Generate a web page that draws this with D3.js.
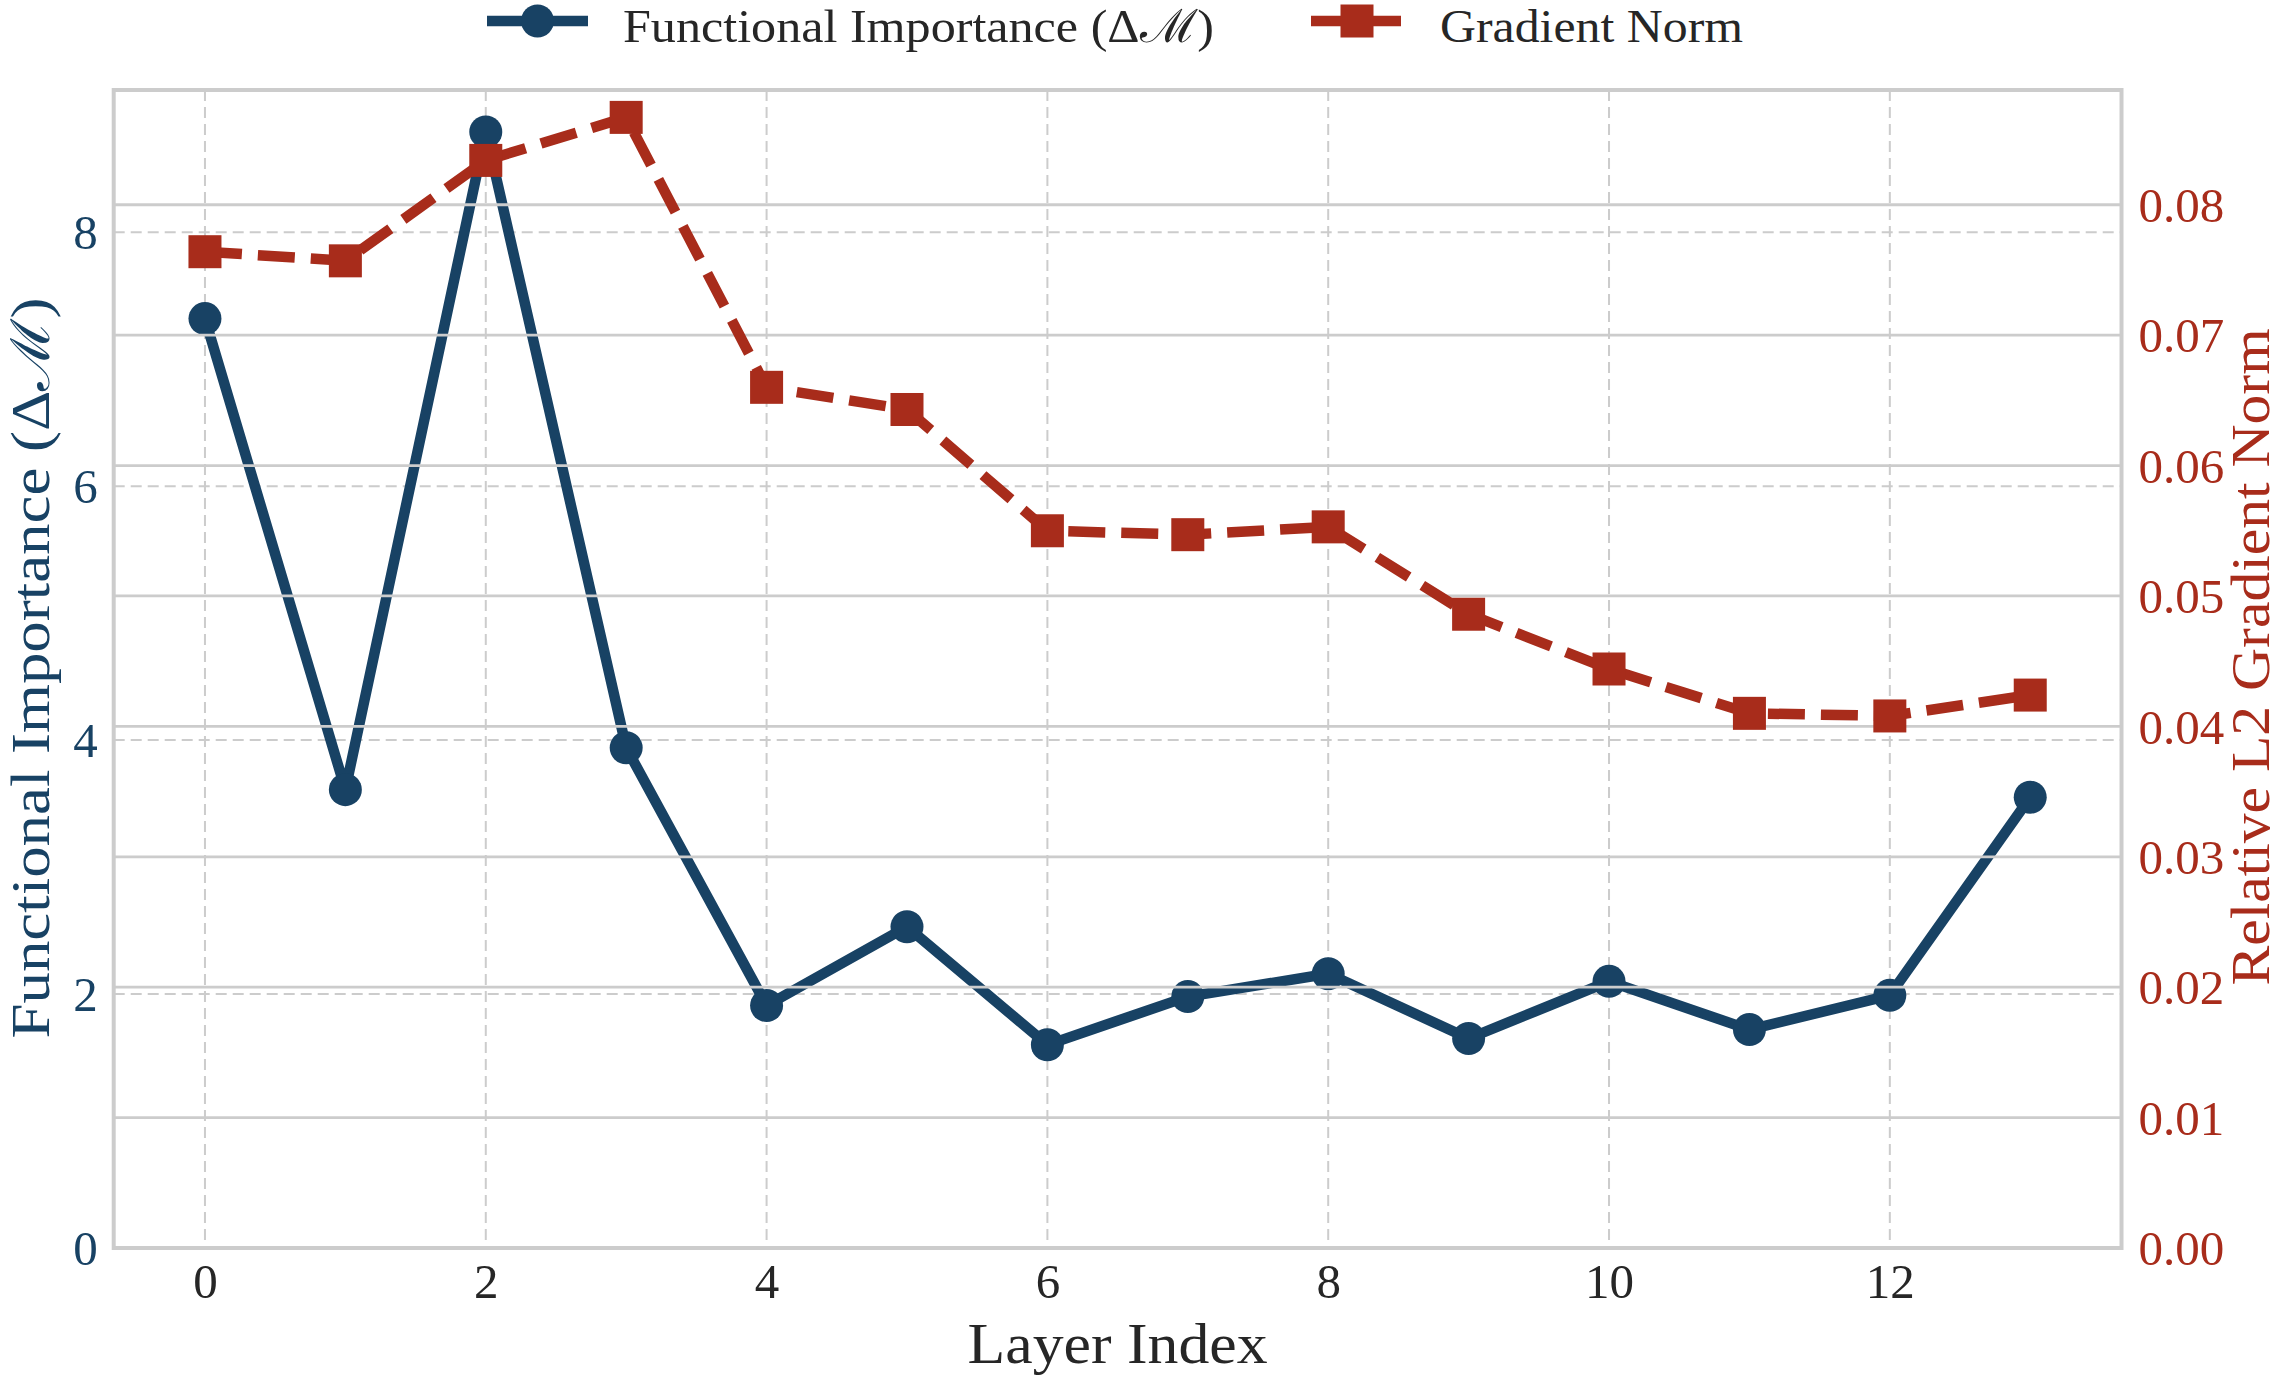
<!DOCTYPE html>
<html>
<head>
<meta charset="utf-8">
<script src="https://cdn.jsdelivr.net/npm/d3@7"></script>
<style>
  html, body { margin: 0; padding: 0; background: #ffffff; }
  svg { display: block; }
  text { font-family: "Liberation Serif", "DejaVu Serif", serif; }
</style>
</head>
<body>
<svg id="chart" width="2283" height="1376"></svg>
<script>
// ---- data ----
const layers = [0, 1, 2, 3, 4, 5, 6, 7, 8, 9, 10, 11, 12, 13];
const functionalImportance = [7.32, 3.61, 8.79, 3.94, 1.91, 2.53, 1.60, 1.98, 2.16, 1.65, 2.10, 1.72, 1.99, 3.55];
const gradientNorm = [0.0764, 0.0757, 0.0834, 0.0867, 0.0660, 0.0643, 0.0550, 0.0547, 0.0553, 0.0486, 0.0444, 0.0410, 0.0408, 0.0424];
const xTicks = [0, 2, 4, 6, 8, 10, 12];
const leftTicks = [0, 2, 4, 6, 8];
const rightTicks = [0, 0.01, 0.02, 0.03, 0.04, 0.05, 0.06, 0.07, 0.08];
const seriesNames = ["Functional Importance (\u0394\u2133)", "Gradient Norm"];
const xLabel = "Layer Index";
const leftLabel = "Functional Importance (\u0394\u2133)";
const rightLabel = "Relative L2 Gradient Norm";

// ---- style ----
const BLUE = "#184264", RED = "#a82c1b", TXT = "#262626", GRID = "#cccccc";
const L = 113.7, R = 2121.5, T = 90, B = 1248;

const svg = d3.select("#chart");
const x = d3.scaleLinear().domain([-0.65, 13.65]).range([L, R]);
const yL = d3.scaleLinear().domain([0, 9.12]).range([B, T]);
const yR = d3.scaleLinear().domain([0, 0.0888]).range([B, T]);

// dashed grid (left axis + x)
const gDash = svg.append("g");
gDash.selectAll("line.h").data(leftTicks).enter().append("line")
  .attr("x1", L).attr("x2", R).attr("y1", d => yL(d)).attr("y2", d => yL(d))
  .attr("stroke", GRID).attr("stroke-width", 2).attr("stroke-dasharray", "11,6");
gDash.selectAll("line.v").data(xTicks).enter().append("line")
  .attr("y1", T).attr("y2", B).attr("x1", d => x(d)).attr("x2", d => x(d))
  .attr("stroke", GRID).attr("stroke-width", 2).attr("stroke-dasharray", "11,6");

// blue series
const pts1 = layers.map((l, i) => [l, functionalImportance[i]]);
svg.append("path").datum(pts1)
  .attr("d", d3.line().x(d => x(d[0])).y(d => yL(d[1])))
  .attr("fill", "none").attr("stroke", BLUE).attr("stroke-width", 10.5)
  .attr("stroke-linejoin", "round").attr("stroke-linecap", "round");
svg.append("g").selectAll("circle").data(pts1).enter().append("circle")
  .attr("cx", d => x(d[0])).attr("cy", d => yL(d[1])).attr("r", 16.5).attr("fill", BLUE);

// solid grid (right axis)
svg.append("g").selectAll("line").data(rightTicks).enter().append("line")
  .attr("x1", L).attr("x2", R).attr("y1", d => yR(d)).attr("y2", d => yR(d))
  .attr("stroke", GRID).attr("stroke-width", 2.8);

// red series
const pts2 = layers.map((l, i) => [l, gradientNorm[i]]);
svg.append("path").datum(pts2)
  .attr("d", d3.line().x(d => x(d[0])).y(d => yR(d[1])))
  .attr("fill", "none").attr("stroke", RED).attr("stroke-width", 10.5)
  .attr("stroke-dasharray", "37,16").attr("stroke-linejoin", "round");
const SQ = 33;
svg.append("g").selectAll("rect").data(pts2).enter().append("rect")
  .attr("x", d => x(d[0]) - SQ / 2).attr("y", d => yR(d[1]) - SQ / 2)
  .attr("width", SQ).attr("height", SQ).attr("fill", RED);

// frame
svg.append("rect").attr("x", L).attr("y", T).attr("width", R - L).attr("height", B - T)
  .attr("fill", "none").attr("stroke", GRID).attr("stroke-width", 4);

// axes via d3
const axX = svg.append("g").attr("transform", `translate(0,${B})`)
  .call(d3.axisBottom(x).tickValues(xTicks).tickFormat(d3.format("d")).tickSize(0).tickPadding(50));
const axL = svg.append("g").attr("transform", `translate(${L},0)`)
  .call(d3.axisLeft(yL).tickValues(leftTicks).tickFormat(d3.format("d")).tickSize(0).tickPadding(16));
const axR = svg.append("g").attr("transform", `translate(${R},0)`)
  .call(d3.axisRight(yR).tickValues(rightTicks).tickFormat(d3.format(".2f")).tickSize(0).tickPadding(17));
[axX, axL, axR].forEach(a => a.select(".domain").remove());
axX.selectAll("text").attr("font-size", 49).attr("fill", TXT).attr("dy", null).attr("y", 0)
  .attr("transform", "translate(0,50)");
axL.selectAll("text").attr("font-size", 49).attr("fill", BLUE).attr("dy", "0.34em");
axR.selectAll("text").attr("font-size", 49).attr("fill", RED).attr("dy", "0.34em");
svg.selectAll(".tick text").style("font-family", "'Liberation Serif', serif");

// axis labels
svg.append("text").text(xLabel).attr("x", (L + R) / 2).attr("y", 1363)
  .attr("text-anchor", "middle").attr("font-size", 57).attr("fill", TXT)
  .attr("textLength", 300).attr("lengthAdjust", "spacingAndGlyphs");
svg.append("text").text(leftLabel).attr("transform", "translate(49,668) rotate(-90)")
  .attr("text-anchor", "middle").attr("font-size", 54).attr("fill", BLUE)
  .attr("textLength", 741).attr("lengthAdjust", "spacingAndGlyphs");
svg.append("text").text(rightLabel).attr("transform", "translate(2269,657) rotate(-90)")
  .attr("text-anchor", "middle").attr("font-size", 54).attr("fill", RED)
  .attr("textLength", 657).attr("lengthAdjust", "spacingAndGlyphs");

// legend
const leg = svg.append("g");
const legY = 21;
leg.append("line").attr("x1", 487).attr("x2", 588).attr("y1", legY).attr("y2", legY)
  .attr("stroke", BLUE).attr("stroke-width", 10.5);
leg.append("circle").attr("cx", 537.5).attr("cy", legY).attr("r", 16.5).attr("fill", BLUE);
leg.append("text").text(seriesNames[0]).attr("x", 623).attr("y", 42)
  .attr("font-size", 46).attr("fill", TXT)
  .attr("textLength", 591).attr("lengthAdjust", "spacingAndGlyphs");
leg.append("line").attr("x1", 1311).attr("x2", 1403).attr("y1", legY).attr("y2", legY)
  .attr("stroke", RED).attr("stroke-width", 10.5).attr("stroke-dasharray", "37,16");
leg.append("rect").attr("x", 1357 - SQ / 2).attr("y", legY - SQ / 2).attr("width", SQ).attr("height", SQ)
  .attr("fill", RED);
leg.append("text").text(seriesNames[1]).attr("x", 1440).attr("y", 42)
  .attr("font-size", 46).attr("fill", TXT)
  .attr("textLength", 303).attr("lengthAdjust", "spacingAndGlyphs");
</script>
</body>
</html>
